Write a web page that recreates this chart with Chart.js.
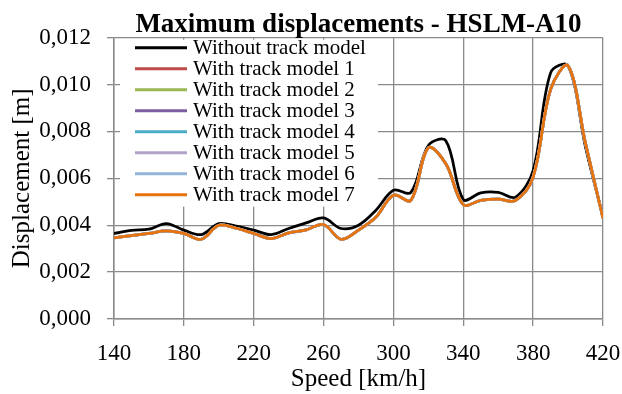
<!DOCTYPE html>
<html>
<head>
<meta charset="utf-8">
<title>Maximum displacements - HSLM-A10</title>
<script src="https://cdn.jsdelivr.net/npm/chart.js@4/dist/chart.umd.min.js"></script>
<style>
    html, body { margin: 0; padding: 0; background: #fff; }
    #wrap { width: 622px; height: 394px; }
</style>
</head>
<body>
<div id="wrap"><canvas id="dispChart" width="622" height="394"></canvas></div>
<script>
// Train speeds [km/h]
const speeds = [140, 150, 160, 170, 180, 190, 200, 210, 220, 230, 240, 250, 260, 270, 280,
                290, 300, 310, 320, 330, 340, 350, 360, 370, 380, 390, 400, 410, 420];

// Maximum displacement [m] without the track model
const withoutTrack = [0.00365, 0.00378, 0.00383, 0.00407, 0.00379, 0.00360, 0.00407, 0.00396, 0.00379, 0.00360,
                      0.00386, 0.00410, 0.00431, 0.00386, 0.00400, 0.00464, 0.00549, 0.00540, 0.00740, 0.00760,
                      0.00510, 0.00538, 0.00540, 0.00520, 0.00634, 0.01050, 0.01080, 0.00733, 0.00435];

// Maximum displacement [m] with track models 1..7 (the seven curves coincide)
const withTrack = [0.00346, 0.00356, 0.00365, 0.00376, 0.00365, 0.00340, 0.00400, 0.00387, 0.00365, 0.00343,
                   0.00367, 0.00380, 0.00403, 0.00340, 0.00379, 0.00435, 0.00528, 0.00506, 0.00730, 0.00662,
                   0.00488, 0.00506, 0.00511, 0.00506, 0.00606, 0.00980, 0.01080, 0.00748, 0.00430];

const seriesNames = ['Without track model', 'With track model 1', 'With track model 2', 'With track model 3',
                     'With track model 4', 'With track model 5', 'With track model 6', 'With track model 7'];
const seriesColors = ['#000000', '#be4b48', '#98b954', '#7d5fa0', '#4bacc6', '#b3a2c7', '#95b3d7', '#e8720c'];

const serif = "'Liberation Serif', 'Times New Roman', serif";

function toPoints(ys) {
    return speeds.map((s, i) => ({ x: s, y: ys[i] }));
}

const datasets = seriesNames.map((name, i) => ({
    label: name,
    data: toPoints(i === 0 ? withoutTrack : withTrack),
    borderColor: seriesColors[i],
    backgroundColor: seriesColors[i],
    borderWidth: 2.75,
    pointRadius: 0,
    tension: 0.35,
    fill: false,
    order: seriesNames.length - 1 - i   // last model drawn on top
}));

// Legend box inside the plot, drawn over the grid but under the lines
const legendBox = {
    id: 'legendBox',
    beforeDatasetsDraw(chart) {
        const { ctx, chartArea } = chart;
        const left = chartArea.left + 6;
        const top = chartArea.top + 2;
        ctx.save();
        ctx.fillStyle = '#fff';
        ctx.fillRect(left, top, 258, 167);
        ctx.font = '21px ' + serif;
        ctx.textBaseline = 'middle';
        chart.data.datasets.forEach((ds, i) => {
            const y = chartArea.top + 10 + i * 21;
            ctx.strokeStyle = ds.borderColor;
            ctx.lineWidth = 3;
            ctx.beginPath();
            ctx.moveTo(left + 15, y);
            ctx.lineTo(left + 67, y);
            ctx.stroke();
            ctx.fillStyle = '#000';
            ctx.fillText(ds.label, left + 73, y + 1);
        });
        ctx.restore();
    }
};

const gridColor = '#8a8a8a';

new Chart(document.getElementById('dispChart'), {
    type: 'line',
    data: { datasets: datasets },
    plugins: [legendBox],
    options: {
        responsive: false,
        animation: false,
        devicePixelRatio: 1,
        layout: { padding: { left: 0, right: 19, top: 0, bottom: 0 } },
        plugins: {
            legend: { display: false },
            tooltip: { enabled: false },
            title: {
                display: true,
                fullSize: false,   // centre the title over the plot area
                text: 'Maximum displacements - HSLM-A10',
                color: '#000',
                font: { family: serif, size: 27, weight: 'bold', lineHeight: 0.95 },
                padding: { top: 12, bottom: 0 }
            }
        },
        scales: {
            x: {
                type: 'linear',
                min: 140,
                max: 420,
                afterFit(scale) {
                    scale.height = 75;
                    scale.paddingRight = 0;   // let the last label run into the right margin
                },
                ticks: {
                    stepSize: 40,
                    autoSkip: false,
                    maxRotation: 0,
                    color: '#000',
                    padding: 14,
                    font: { family: serif, size: 23 }
                },
                grid: { color: gridColor, lineWidth: 1.3, tickLength: 7 },
                border: { color: gridColor, width: 1.5 },
                title: {
                    display: true,
                    text: 'Speed [km/h]',
                    color: '#000',
                    padding: 0,
                    font: { family: serif, size: 25 }
                }
            },
            y: {
                min: 0,
                max: 0.012,
                afterFit(scale) { scale.width = 114; },
                ticks: {
                    stepSize: 0.002,
                    autoSkip: false,
                    color: '#000',
                    padding: 16,
                    font: { family: serif, size: 23 },
                    callback: (v) => v.toFixed(3).replace('.', ',')
                },
                grid: { color: gridColor, lineWidth: 1.3, tickLength: 7 },
                border: { color: gridColor, width: 1.5 },
                title: {
                    display: true,
                    text: 'Displacement [m]',
                    color: '#000',
                    padding: { top: 7, bottom: 0 },
                    font: { family: serif, size: 25 }
                }
            }
        }
    }
});
</script>
</body>
</html>
